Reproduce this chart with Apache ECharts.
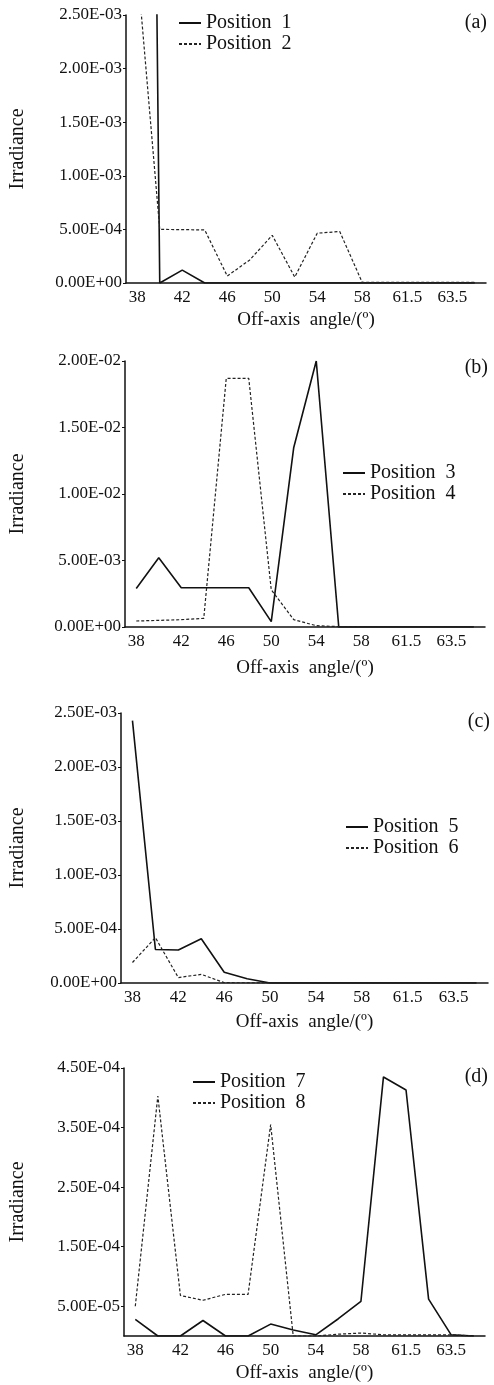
<!DOCTYPE html>
<html>
<head>
<meta charset="utf-8">
<script src="https://cdn.jsdelivr.net/npm/echarts@6/dist/echarts.min.js"></script>
<style>
  html, body { margin: 0; padding: 0; background: #fff; }
  #chart { width: 494px; height: 1385px; }
</style>
</head>
<body>
<div id="chart"></div>
<script>
// off-axis angle categories (shared by all panels)
var angles = ['38', '40', '42', '44', '46', '48', '50', '52', '54', '56', '58', '60', '61.5', '62.5', '63.5', '64.5'];

// (a)
var pos1 = [2.0e-2, 0, 1.2e-4, 0, 0, 0, 0, 0, 0, 0, 0, 0, 0, 0, 0, 0];
var pos2 = [2.95e-3, 5.0e-4, 4.98e-4, 4.95e-4, 6.5e-5, 2.15e-4, 4.45e-4, 5.5e-5, 4.65e-4, 4.8e-4, 5e-6, 5e-6, 5e-6, 5e-6, 5e-6, 5e-6];
// (b)
var pos3 = [2.9e-3, 5.2e-3, 2.95e-3, 2.95e-3, 2.95e-3, 2.95e-3, 4e-4, 1.35e-2, 2.0e-2, 0, 0, 0, 0, 0, 0, 0];
var pos4 = [4.5e-4, 5.0e-4, 5.5e-4, 6.5e-4, 1.87e-2, 1.87e-2, 2.8e-3, 5.5e-4, 1e-4, 3e-5, 2e-5, 2e-5, 2e-5, 2e-5, 2e-5, 2e-5];
// (c)
var pos5 = [2.43e-3, 3.1e-4, 3.05e-4, 4.1e-4, 1.0e-4, 4e-5, 0, 0, 0, 0, 0, 0, 0, 0, 0, 0];
var pos6 = [1.9e-4, 4.2e-4, 5e-5, 8e-5, 3e-6, 2e-6, 2e-6, 2e-6, 2e-6, 2e-6, 2e-6, 2e-6, 2e-6, 2e-6, 2e-6, 2e-6];
// (d)
var pos7 = [2.8e-5, 0, 0, 2.6e-5, 0, 0, 2.0e-5, 1.0e-5, 2e-6, 2.9e-5, 5.8e-5, 4.35e-4, 4.13e-4, 6.2e-5, 2e-6, 0];
var pos8 = [5e-5, 4.03e-4, 6.8e-5, 6e-5, 7e-5, 7e-5, 3.55e-4, 0, 0, 3e-6, 5e-6, 2e-6, 2e-6, 2e-6, 2e-6, 0];

// y axis ranges
var yMax = [2.5e-3, 2.0e-2, 2.5e-3, 4.5e-4];
var yStep = [5e-4, 5e-3, 5e-4, 5e-5];
var dTicks = [5e-5, 1.5e-4, 2.5e-4, 3.5e-4, 4.5e-4];

var FONT = "'Liberation Serif', 'Times New Roman', serif";

// 2.50E-03 style
function sci(v) {
  var p = Number(v).toExponential(2).split('e');
  var n = parseInt(p[1], 10);
  return p[0] + 'E' + (n < 0 ? '-' : '+') + String(Math.abs(n)).padStart(2, '0');
}

var grids = [
  { left: 116, top: 15, right: 8, height: 268 },
  { left: 115, top: 361, right: 9, height: 266 },
  { left: 118, top: 713, right: 6, height: 270 },
  { left: 114, top: 1068, right: 9, height: 268 }
];
var yNameGap = [98, 97, 93, 96];
var xNameGap = [28, 32, 30, 28];

var xAxes = [], yAxes = [];
for (var i = 0; i < 4; i++) {
  xAxes.push({
    type: 'category', gridIndex: i, data: angles, boundaryGap: true,
    name: 'Off-axis  angle/(\u00ba)', nameLocation: 'middle', nameGap: xNameGap[i],
    nameTextStyle: { fontFamily: FONT, fontSize: 19, color: '#111' },
    axisLine: { lineStyle: { color: '#111', width: 1.5 } },
    axisTick: { inside: true, length: 4, interval: 0, lineStyle: { color: '#111' } },
    axisLabel: { interval: 1, margin: 6, fontFamily: FONT, fontSize: 17, color: '#111' },
    splitLine: { show: false }
  });
  var y = {
    type: 'value', gridIndex: i, min: 0, max: yMax[i], interval: yStep[i],
    name: 'Irradiance', nameLocation: 'middle', nameGap: yNameGap[i],
    nameTextStyle: { fontFamily: FONT, fontSize: 20, color: '#111' },
    axisLine: { show: true, lineStyle: { color: '#111', width: 1.5 } },
    axisTick: { show: true, length: 3, lineStyle: { color: '#111' } },
    axisLabel: { margin: 4, fontFamily: FONT, fontSize: 17, color: '#111', formatter: sci },
    splitLine: { show: false }
  };
  if (i === 3) {
    // only odd multiples of 5E-05 are labelled
    y.axisTick.customValues = dTicks;
    y.axisLabel.customValues = dTicks;
    y.axisLabel.formatter = function (v) {
      return Math.round(v / 5e-5) % 2 === 1 ? sci(v) : '';
    };
  }
  yAxes.push(y);
}

function line(name, data, idx, dashed) {
  return {
    name: name, type: 'line', data: data, xAxisIndex: idx, yAxisIndex: idx,
    symbol: 'none', clip: true, animation: false,
    lineStyle: dashed
      ? { color: '#222', width: 1.2, type: [3, 2] }
      : { color: '#111', width: 1.6 },
    itemStyle: { color: '#111' }
  };
}

function legend(names, left, top) {
  return {
    data: names, orient: 'vertical', left: left, top: top,
    itemWidth: 22, itemHeight: 12, itemGap: 1, padding: 0,
    // hide the symbol dot, keep only the line
    itemStyle: { opacity: 0 },
    textStyle: { fontFamily: FONT, fontSize: 20, color: '#111', lineHeight: 20 },
    selectedMode: false
  };
}

function tag(text, right, top) {
  return { text: text, right: right, top: top, padding: 0,
    textStyle: { fontFamily: FONT, fontSize: 20, fontWeight: 'normal', color: '#111' } };
}

var chart = echarts.init(document.getElementById('chart'));
chart.setOption({
  backgroundColor: '#fff',
  animation: false,
  title: [tag('(a)', 7, 13), tag('(b)', 6, 358), tag('(c)', 4, 712), tag('(d)', 6, 1067)],
  legend: [
    legend(['Position  1', 'Position  2'], 178, 13),
    legend(['Position  3', 'Position  4'], 342, 463),
    legend(['Position  5', 'Position  6'], 345, 817),
    legend(['Position  7', 'Position  8'], 192, 1072)
  ],
  grid: grids,
  xAxis: xAxes,
  yAxis: yAxes,
  series: [
    line('Position  1', pos1, 0, false),
    line('Position  2', pos2, 0, true),
    line('Position  3', pos3, 1, false),
    line('Position  4', pos4, 1, true),
    line('Position  5', pos5, 2, false),
    line('Position  6', pos6, 2, true),
    line('Position  7', pos7, 3, false),
    line('Position  8', pos8, 3, true)
  ]
});
</script>
</body>
</html>
